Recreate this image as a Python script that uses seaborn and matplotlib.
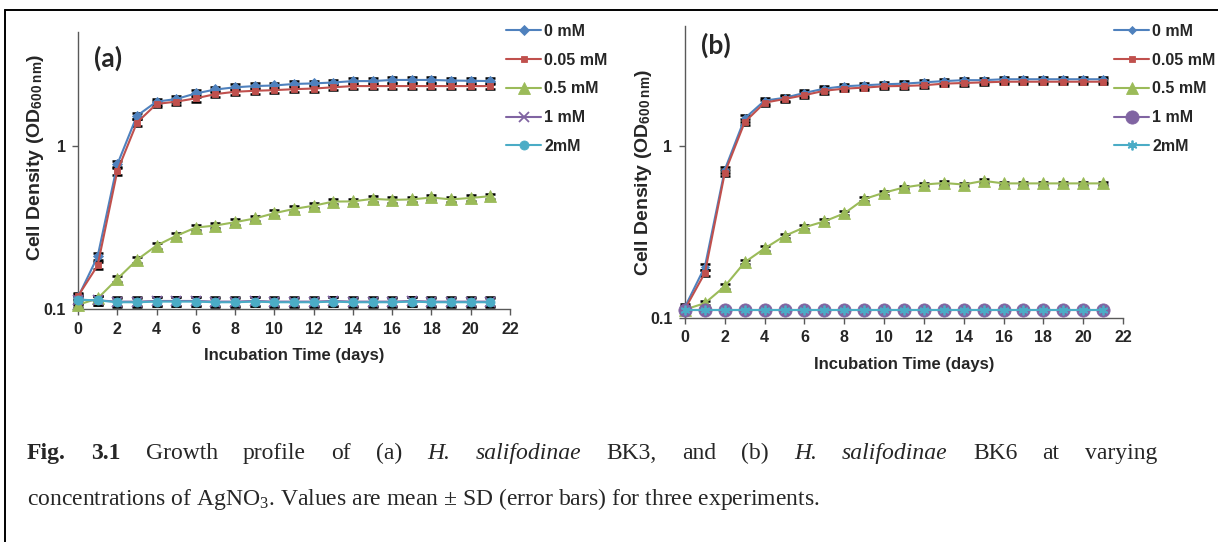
import numpy as np
import pandas as pd
import seaborn as sns
import matplotlib
matplotlib.use("Agg")
import matplotlib.pyplot as plt
from matplotlib.lines import Line2D
from matplotlib.ticker import FixedLocator, FixedFormatter, NullLocator

# ---------------- data ----------------
days = list(range(22))
labels = ["0 mM", "0.05 mM", "0.5 mM", "1 mM", "2mM"]

# Panel (a): H. salifodinae BK3
a_0mM = [0.118, 0.21, 0.77, 1.53, 1.87, 1.94, 2.10, 2.22, 2.29, 2.33, 2.35, 2.40,
         2.42, 2.45, 2.50, 2.50, 2.54, 2.54, 2.54, 2.52, 2.51, 2.50]
a_005mM = [0.120, 0.185, 0.70, 1.39, 1.81, 1.87, 1.96, 2.08, 2.15, 2.18, 2.20, 2.23,
           2.25, 2.29, 2.33, 2.33, 2.33, 2.33, 2.33, 2.33, 2.33, 2.33]
a_05mM = [0.106, 0.116, 0.153, 0.200, 0.245, 0.281, 0.316, 0.325, 0.341, 0.359, 0.387, 0.411,
          0.430, 0.456, 0.457, 0.474, 0.467, 0.470, 0.483, 0.470, 0.480, 0.492]
a_1mM = [0.114, 0.113, 0.111, 0.111, 0.112, 0.112, 0.112, 0.111, 0.111, 0.112, 0.111, 0.111,
         0.111, 0.112, 0.111, 0.111, 0.111, 0.112, 0.111, 0.111, 0.111, 0.111]
a_2mM = [0.114, 0.113, 0.110, 0.110, 0.111, 0.111, 0.111, 0.110, 0.110, 0.111, 0.110, 0.110,
         0.110, 0.111, 0.110, 0.110, 0.110, 0.111, 0.110, 0.110, 0.110, 0.110]

a_sd_0mM = [0.005, 0.01, 0.04, 0.07, 0.08, 0.08, 0.09, 0.09, 0.10, 0.10, 0.10, 0.10,
            0.10, 0.10, 0.10, 0.10, 0.10, 0.10, 0.10, 0.10, 0.10, 0.10]
a_sd_005mM = [0.005, 0.01, 0.04, 0.07, 0.08, 0.08, 0.09, 0.09, 0.10, 0.10, 0.10, 0.10,
              0.10, 0.10, 0.10, 0.10, 0.10, 0.10, 0.10, 0.10, 0.10, 0.10]
a_sd_05mM = [0.003, 0.004, 0.006, 0.008, 0.010, 0.010, 0.012, 0.013, 0.013, 0.014, 0.015, 0.016,
             0.016, 0.017, 0.017, 0.018, 0.018, 0.018, 0.018, 0.018, 0.018, 0.018]
a_sd_1mM = [0.006, 0.007, 0.007, 0.007, 0.007, 0.007, 0.007, 0.007, 0.007, 0.007, 0.007, 0.007,
            0.007, 0.007, 0.007, 0.007, 0.007, 0.007, 0.007, 0.007, 0.007, 0.007]
a_sd_2mM = [0.006, 0.007, 0.007, 0.007, 0.007, 0.007, 0.007, 0.007, 0.007, 0.007, 0.007, 0.007,
            0.007, 0.007, 0.007, 0.007, 0.007, 0.007, 0.007, 0.007, 0.007, 0.007]

# Panel (b): H. salifodinae BK6
b_0mM = [0.116, 0.199, 0.73, 1.45, 1.84, 1.91, 2.04, 2.16, 2.23, 2.26, 2.29, 2.31,
         2.35, 2.39, 2.42, 2.42, 2.45, 2.45, 2.45, 2.45, 2.45, 2.45]
b_005mM = [0.113, 0.183, 0.70, 1.38, 1.79, 1.88, 1.98, 2.10, 2.16, 2.19, 2.23, 2.24,
           2.26, 2.31, 2.33, 2.35, 2.37, 2.37, 2.37, 2.37, 2.37, 2.37]
b_05mM = [0.112, 0.122, 0.153, 0.211, 0.254, 0.300, 0.337, 0.365, 0.406, 0.492, 0.536, 0.575,
          0.598, 0.610, 0.598, 0.628, 0.607, 0.607, 0.607, 0.607, 0.607, 0.607]
b_1mM = [0.112] * 22
b_2mM = [0.112] * 22

b_sd_0mM = [0.004, 0.008, 0.03, 0.06, 0.07, 0.07, 0.08, 0.08, 0.08, 0.08, 0.08, 0.08,
            0.08, 0.08, 0.08, 0.08, 0.08, 0.08, 0.08, 0.08, 0.08, 0.08]
b_sd_005mM = [0.004, 0.008, 0.03, 0.06, 0.07, 0.07, 0.08, 0.08, 0.08, 0.08, 0.08, 0.08,
              0.08, 0.08, 0.08, 0.08, 0.08, 0.08, 0.08, 0.08, 0.08, 0.08]
b_sd_05mM = [0.002, 0.003, 0.005, 0.006, 0.007, 0.008, 0.009, 0.010, 0.011, 0.012, 0.013, 0.014,
             0.014, 0.015, 0.014, 0.015, 0.014, 0.014, 0.014, 0.014, 0.014, 0.014]
b_sd_1mM = [0.002] * 22
b_sd_2mM = [0.002] * 22

colors = ["#4F81BD", "#C0504D", "#9BBB59", "#8064A2", "#4BACC6"]
a_markers = ["D", "s", "^", "x", "o"]
a_msizes = [5, 5, 8, 7, 6.5]
b_markers = ["D", "s", "^", "o", (6, 2, 0)]
b_msizes = [4, 5, 8, 9.5, 7]

# ---------------- style ----------------
sns.set_theme(style="white")
plt.rcParams["font.family"] = ["Liberation Sans", "DejaVu Sans"]
plt.rcParams["mathtext.fontset"] = "custom"
plt.rcParams["mathtext.rm"] = "Liberation Serif"
plt.rcParams["mathtext.it"] = "Liberation Serif:italic"
plt.rcParams["mathtext.bf"] = "Liberation Sans:bold"

W, H = 1218, 542
fig = plt.figure(figsize=(W / 100, H / 100), dpi=100)
fig.patch.set_facecolor("white")


def fx(px):
    return px / W


def fy(py):
    return 1 - py / H


axA = fig.add_axes([fx(78), fy(309), fx(510) - fx(78), fy(32) - fy(309)])
axB = fig.add_axes([fx(685), fy(318), fx(1123) - fx(685), fy(26) - fy(318)])


def draw_panel(ax, series, sds, markers, msizes, tag, tagpos, legpos):
    ax.set_yscale("log")
    for lab, y, sd, col, mk, ms in zip(labels, series, sds, colors, markers, msizes):
        eb = ax.errorbar(days, y, yerr=sd, fmt="none", ecolor="black", elinewidth=1.4,
                         capsize=3.4, capthick=1.8, zorder=2)
        for part in eb.lines[1] + eb.lines[2]:
            part.set_clip_on(False)
        mew = 1.3 if mk in ("x", (6, 2, 0)) else 0.6
        sns.lineplot(x=days, y=y, ax=ax, color=col, marker=mk, markersize=ms,
                     markeredgecolor=col, markeredgewidth=mew, linewidth=1.5,
                     label=lab, zorder=3, clip_on=False)
    ax.set_xlim(0, 22)
    ax.set_ylim(0.1, 5)
    ax.xaxis.set_major_locator(FixedLocator(list(range(0, 23, 2))))
    ax.yaxis.set_major_locator(FixedLocator([0.1, 1]))
    ax.yaxis.set_major_formatter(FixedFormatter(["0.1", "1"]))
    ax.yaxis.set_minor_locator(NullLocator())
    ax.xaxis.set_minor_locator(NullLocator())
    for s in ["top", "right"]:
        ax.spines[s].set_visible(False)
    for s in ["left", "bottom"]:
        ax.spines[s].set_color("#595959")
        ax.spines[s].set_linewidth(1.0)
    ax.tick_params(axis="both", direction="out", length=4, width=1, color="#595959",
                   labelsize=11.5, pad=5, left=True, bottom=True)
    for t in ax.get_xticklabels() + ax.get_yticklabels():
        t.set_fontweight("bold")
    ax.set_xlabel("Incubation Time (days)", fontsize=12, fontweight="bold", labelpad=8.5)
    ax.set_ylabel(r"Cell Density (OD$_{\mathbf{600\ nm}}$)", fontsize=14, fontweight="bold")
    ax.text(tagpos[0], tagpos[1], tag, transform=fig.transFigure, fontsize=19,
            fontweight="bold", family=["Lato", "DejaVu Sans"], ha="left", va="center")
    ax.legend(loc="upper left", bbox_to_anchor=legpos, bbox_transform=fig.transFigure,
              frameon=False, prop={"weight": "bold", "size": 11.5},
              handlelength=2.2, handletextpad=0.2, labelspacing=0.86, borderaxespad=0,
              borderpad=0, numpoints=1)
    ax.grid(False)


draw_panel(axA, [a_0mM, a_005mM, a_05mM, a_1mM, a_2mM],
           [a_sd_0mM, a_sd_005mM, a_sd_05mM, a_sd_1mM, a_sd_2mM],
           a_markers, a_msizes, "(a)", (fx(94), fy(58)), (fx(506), fy(24)))
draw_panel(axB, [b_0mM, b_005mM, b_05mM, b_1mM, b_2mM],
           [b_sd_0mM, b_sd_005mM, b_sd_05mM, b_sd_1mM, b_sd_2mM],
           b_markers, b_msizes, "(b)", (fx(701), fy(45)), (fx(1114), fy(24)))

axA.yaxis.set_label_coords((46 - 78) / (510 - 78), (309 - 157) / (309 - 32))
axB.yaxis.set_label_coords((654 - 685) / (1123 - 685), (318 - 172) / (318 - 26))

# ---------------- frame ----------------
fig.add_artist(Line2D([fx(5), 1.0], [fy(10), fy(10)], transform=fig.transFigure,
                      color="black", linewidth=1.4))
fig.add_artist(Line2D([fx(5), fx(5)], [0.0, fy(10)], transform=fig.transFigure,
                      color="black", linewidth=1.4))

# ---------------- caption ----------------
cap_size = 17
renderer = fig.canvas.get_renderer()
line1 = [("Fig.", "b"), ("3.1", "b"), ("Growth", "n"), ("profile", "n"), ("of", "n"),
         ("(a)", "n"), ("H.", "i"), ("salifodinae", "i"), ("BK3,", "n"), ("and", "n"),
         ("(b)", "n"), ("H.", "i"), ("salifodinae", "i"), ("BK6", "n"), ("at", "n"),
         ("varying", "n")]
x0, x1 = 27, 1157
texts = []
for w, st in line1:
    t = fig.text(0, fy(459), w, fontsize=cap_size, family=["Liberation Serif", "DejaVu Serif"],
                 fontweight="bold" if st == "b" else "normal",
                 fontstyle="italic" if st == "i" else "normal",
                 ha="left", va="baseline")
    texts.append(t)
widths = [t.get_window_extent(renderer).width for t in texts]
gap = (x1 - x0 - sum(widths)) / (len(texts) - 1)
xp = x0
for t, wd in zip(texts, widths):
    t.set_x(fx(xp))
    xp += wd + gap

fig.text(fx(27), fy(505),
         r"concentrations of AgNO$_3$. Values are mean ± SD (error bars) for three experiments.",
         fontsize=cap_size, family=["Liberation Serif", "DejaVu Serif"], ha="left", va="baseline")

fig.savefig("out.png", dpi=100, facecolor="white")
